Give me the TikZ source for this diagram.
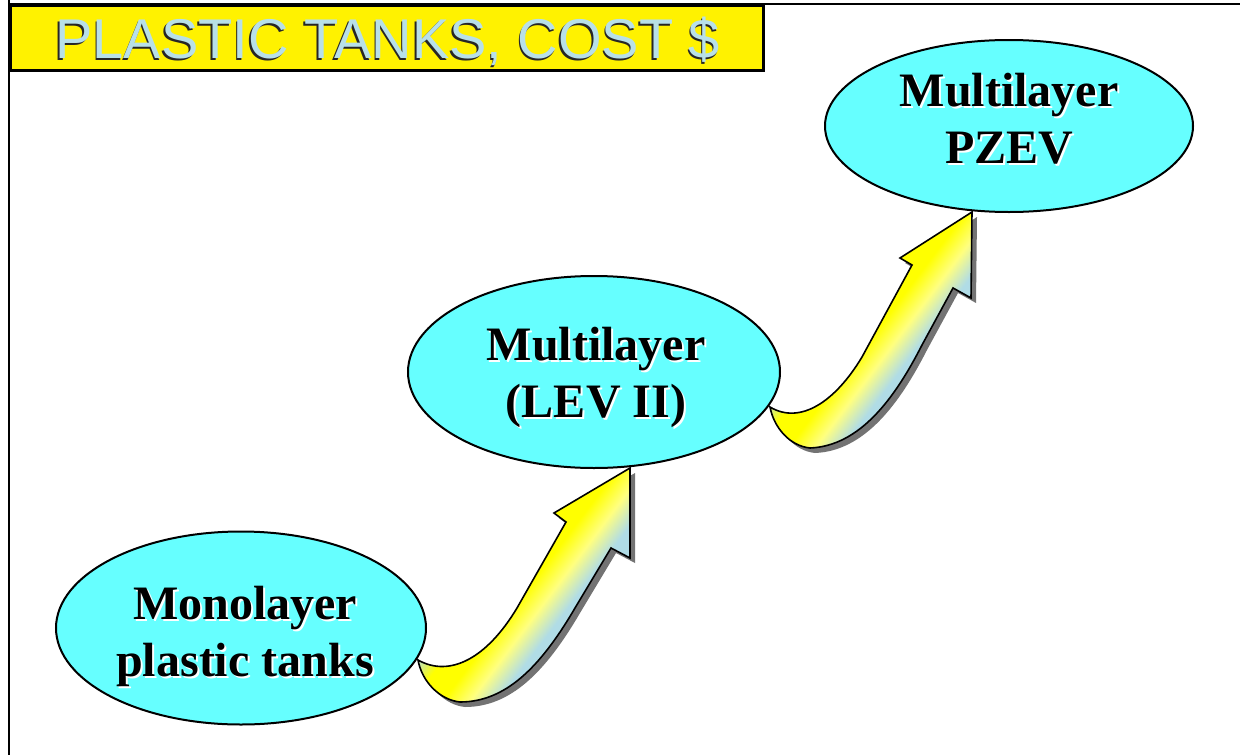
\documentclass[tikz,border=0pt]{standalone}
\usepackage{fontspec}
\setmainfont{Liberation Serif}
\newfontfamily\titlefont{Liberation Sans}
\usetikzlibrary{shapes.geometric}
\definecolor{ellcyan}{HTML}{66FFFF}
\definecolor{titleblue}{HTML}{B8E0E8}
\definecolor{arrblue}{HTML}{B0DCE6}
\definecolor{arryel}{HTML}{FFFF00}
\pgfdeclarehorizontalshading{arrowshade}{100bp}{color(0bp)=(arrblue); color(40.5bp)=(arrblue); color(45.5bp)=(arryel); color(51bp)=(arryel); color(56bp)=(arryel!50!white); color(61bp)=(arrblue); color(100bp)=(arrblue)}
\tikzset{
  ell/.style={ellipse, draw=black, line width=2pt, fill=ellcyan, inner sep=0pt},
  elltext/.style={align=center, font=\fontsize{48}{57}\selectfont\bfseries, inner sep=0pt},
  arrowbody/.style={draw=black, line width=1.6pt, line join=miter, shading=arrowshade, shading angle=-37},
  arrowshadow/.style={fill=black!55, draw=none},
}
\newcommand\arrowone{(418,660) .. controls (450,678) and (487,658) .. (517,608) -- (566,522) -- (554,513) -- (630,468) -- (630,558) -- (611,548) -- (575,608) .. controls (540,668) and (505,702) .. (460,702) .. controls (440,700) and (422,682) .. (418,660) -- cycle}
\newcommand\arrowtwo{(770,407) .. controls (800,425) and (835,402) .. (862,357) -- (912,265) -- (900,258) -- (972,212) -- (971,298) -- (953,288) -- (922,345) .. controls (895,398) and (860,446) .. (810,448) .. controls (790,446) and (774,428) .. (770,407) -- cycle}
\begin{document}
\begin{tikzpicture}[x=1pt,y=-1pt]
\useasboundingbox (0,0) rectangle (1240,755);
% frame lines
\coordinate (fl1) at (9,0);
\coordinate (fl2) at (9,755);
\coordinate (ft1) at (9,4);
\coordinate (ft2) at (1240,4);
\draw[line width=2.5pt] (fl1) -- (fl2);
\draw[line width=2.5pt] (ft1) -- (ft2);
% title box
\fill[black!60] (12,7) rectangle (765,72);
\node[draw=black, line width=2.5pt, fill=yellow, minimum width=753pt, minimum height=65pt, inner sep=0pt, anchor=north west] (title) at (9,4) {};
\node[anchor=base west, inner sep=0pt, text=black!85, font=\titlefont\fontsize{56}{60}\selectfont] (titlesh) at (53.5,60) {PLASTIC TANKS, COST \$};
\node[anchor=base west, inner sep=0pt, text=titleblue, font=\titlefont\fontsize{56}{60}\selectfont] (titletx) at (55,58) {PLASTIC TANKS, COST \$};
% arrows
\path[arrowshadow, shift={(5,5)}] \arrowone;
\path[arrowshadow, shift={(5,5)}] \arrowtwo;
\path[arrowbody] \arrowone;
\path[arrowbody] \arrowtwo;
% ellipses
\node[ell, minimum width=370pt, minimum height=193pt] (mono) at (241,628) {};
\node[ell, minimum width=372pt, minimum height=192pt] (lev) at (594,372) {};
\node[ell, minimum width=368pt, minimum height=172pt] (pzev) at (1009,126) {};
% texts
\node[elltext, text=white] (monosh) at (247,638) {Monolayer\\plastic tanks};
\node[elltext] (monotx) at (245,636) {Monolayer\\plastic tanks};
\node[elltext, text=white] (levsh) at (598,379) {Multilayer\\(LEV II)};
\node[elltext] (levtx) at (596,377) {Multilayer\\(LEV II)};
\node[elltext, text=white] (pzsh) at (1011,121) {Multilayer\\PZEV};
\node[elltext] (pztx) at (1009,119) {Multilayer\\PZEV};
\end{tikzpicture}
\end{document}
